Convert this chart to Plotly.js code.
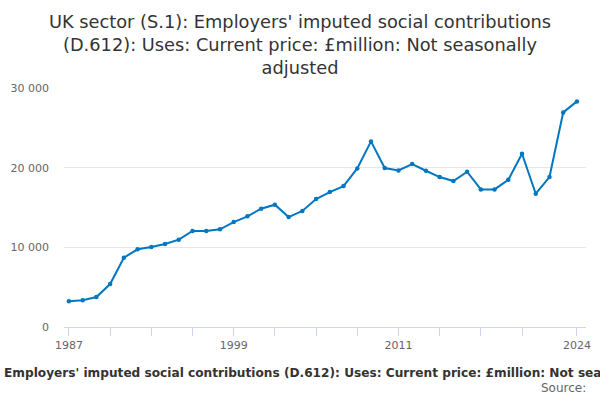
<!DOCTYPE html>
<html>
<head>
<meta charset="utf-8">
<script src="https://cdn.plot.ly/plotly-3.0.1.min.js"></script>
<style>
  html, body { margin: 0; padding: 0; background: #fff; }
  #chart { width: 600px; height: 400px; }
</style>
</head>
<body>
<div id="chart"></div>
<script>
// ── Data ──────────────────────────────────────────────────────────────────────
const years = [
  1987, 1988, 1989, 1990, 1991, 1992, 1993, 1994, 1995, 1996,
  1997, 1998, 1999, 2000, 2001, 2002, 2003, 2004, 2005, 2006,
  2007, 2008, 2009, 2010, 2011, 2012, 2013, 2014, 2015, 2016,
  2017, 2018, 2019, 2020, 2021, 2022, 2023, 2024
];
const values = [
  3220, 3350, 3760, 5390, 8700, 9750, 10040, 10410, 10960, 12050,
  12050, 12260, 13170, 13890, 14850, 15350, 13800, 14560, 16060, 16940,
  17690, 19910, 23300, 19950, 19660, 20450, 19610, 18820, 18320, 19490,
  17270, 17270, 18480, 21750, 16730, 18820, 26940, 28320
];
const xTickVals = [1987, 1990, 1993, 1996, 1999, 2002, 2005, 2008, 2011, 2014, 2017, 2020, 2024];
const xLabelled = [1987, 1999, 2011, 2024];
const yTickVals = [0, 10000, 20000, 30000];
const yTickText = ['0', '10 000', '20 000', '30 000'];

const TITLE  = "UK sector (S.1): Employers' imputed social contributions<br>(D.612): Uses: Current price: £million: Not seasonally<br>adjusted";
const SERIES = "Employers' imputed social contributions (D.612): Uses: Current price: £million: Not seasonally adjusted";
const COLOR  = '#0077c0';

const trace = {
  x: years,
  y: values,
  type: 'scatter',
  mode: 'lines+markers',
  line:   { color: COLOR, width: 2 },
  marker: { color: COLOR, size: 4.5 },
  hoverinfo: 'skip',
};

const layout = {
  width: 600,
  height: 400,
  paper_bgcolor: '#fff',
  plot_bgcolor:  '#fff',
  font: { family: 'DejaVu Sans, sans-serif', size: 11, color: '#666' },
  margin: { t: 88, r: 14, b: 73, l: 64, pad: 0 },
  showlegend: false,
  title: {
    text: TITLE,
    xref: 'container', yref: 'container',
    x: 0.5, xanchor: 'center',
    y: 0.931, yanchor: 'middle',
    font: { size: 17.8, color: '#333' },
  },
  xaxis: {
    range: [1986.64, 2024.66],
    tickvals: xTickVals,
    ticktext: xTickVals.map(v => xLabelled.includes(v) ? String(v) : ''),
    ticks: 'outside',
    ticklen: 8,
    tickcolor: '#ccd6eb',
    tickfont: { size: 11, color: '#666' },
    showgrid: false,
    zeroline: false,
    showline: true,
    linecolor: '#ccd6eb',
    linewidth: 1,
    fixedrange: true,
  },
  yaxis: {
    range: [0, 30000],
    tickvals: yTickVals,
    ticktext: yTickText,
    tickfont: { size: 11, color: '#666' },
    ticklabelstandoff: 14,
    showgrid: true,
    gridcolor: '#e6e6e6',
    gridwidth: 1,
    zeroline: false,
    showline: false,
    fixedrange: true,
  },
  annotations: [
    {
      text: '<b>' + SERIES + '</b>',
      xref: 'paper', yref: 'paper',
      x: -0.118, y: -0.1925,
      xanchor: 'left', yanchor: 'middle',
      showarrow: false,
      font: { size: 12.15, color: '#333' },
    },
    {
      text: 'Source:',
      xref: 'paper', yref: 'paper',
      x: 1.0040, y: -0.255,
      xanchor: 'right', yanchor: 'middle',
      showarrow: false,
      font: { size: 12, color: '#666' },
    },
  ],
};

Plotly.newPlot('chart', [trace], layout, { displayModeBar: false, staticPlot: true });
</script>
</body>
</html>
